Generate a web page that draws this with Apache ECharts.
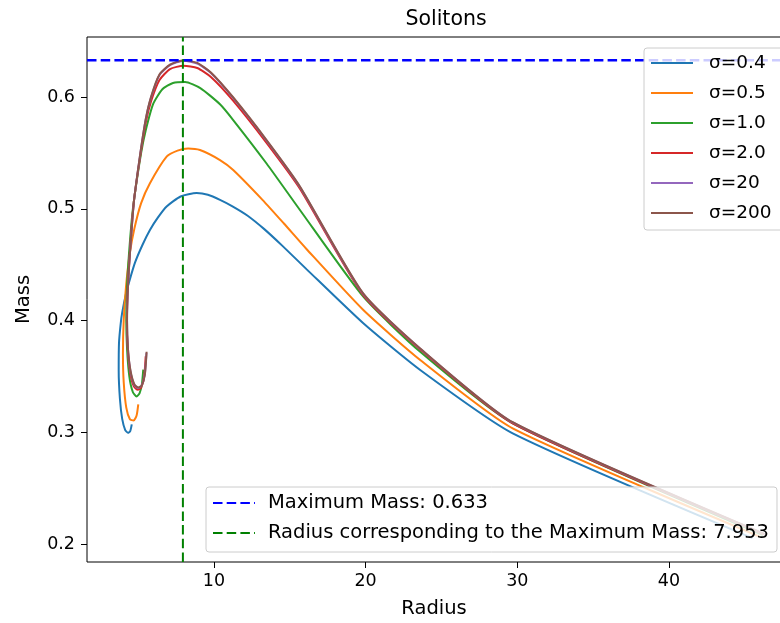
<!DOCTYPE html>
<html>
<head>
<meta charset="utf-8">
<script src="https://cdn.jsdelivr.net/npm/echarts@6/dist/echarts.min.js"></script>
<style>
html,body{margin:0;padding:0;background:#fff;}
#chart{width:780px;height:623px;}
</style>
</head>
<body>
<div id="chart"></div>
<script>
// ---- data ----
const titleText = 'Solitons';
const xName = 'Radius';
const yName = 'Mass';
const xTicks = [10, 20, 30, 40];
const yTicks = [0.2, 0.3, 0.4, 0.5, 0.6];
const xRange = [1.63, 47.39];   // visible part of the axis (right side is cut off in the reference)
const yRange = [0.1839, 0.6537];
const maxMass = 0.633;
const maxRadius = 7.953;
const seriesNames = ['σ=0.4', 'σ=0.5', 'σ=1.0', 'σ=2.0', 'σ=20', 'σ=200'];

const s04 = [[4.58,0.307],[4.48,0.301],[4.33,0.2995],[4.15,0.302],[3.95,0.312],[3.8,0.33],[3.72,0.355],[3.74,0.38],[3.85,0.397],[3.95,0.407],[4.2,0.424],[4.46,0.437],[4.8,0.452],[5.3,0.468],[5.78,0.481],[6.3,0.492],[6.88,0.502],[7.8,0.511],[8.86,0.514],[9.6,0.5125],[10.4,0.508],[11.25,0.502],[12.2,0.494],[13.3,0.482],[14.5,0.467],[16.1,0.446],[19.85,0.3975],[23.6,0.3557],[29.7,0.299],[45.5,0.2053]];
const s05 = [[5.01,0.325],[4.9,0.315],[4.7,0.3105],[4.46,0.3116],[4.22,0.322],[4.05,0.345],[4.0,0.37],[4.05,0.40],[4.2,0.43],[4.45,0.46],[4.75,0.482],[5.2,0.505],[5.78,0.5228],[6.88,0.5466],[7.6,0.552],[8.3,0.554],[9.08,0.5526],[10.4,0.5436],[11.27,0.5347],[13.2,0.508],[14.6,0.487],[16.1,0.464],[19.85,0.4094],[23.6,0.3647],[29.7,0.3035],[46.0,0.2065]];
const s10 = [[5.34,0.356],[5.25,0.343],[5.1,0.335],[4.9,0.332],[4.65,0.336],[4.42,0.35],[4.27,0.375],[4.22,0.40],[4.27,0.43],[4.4,0.46],[4.58,0.49],[4.75,0.51],[5.2,0.55],[5.5,0.57],[6.0,0.594],[6.6,0.607],[7.3,0.6125],[8.1,0.6134],[9.1,0.608],[10.4,0.5935],[11.27,0.5794],[13.47,0.5405],[15.67,0.4989],[19.85,0.4213],[23.6,0.372],[29.7,0.308],[46.2,0.208]];
const s20 = [[5.5,0.368],[5.4,0.350],[5.2,0.340],[4.98,0.338],[4.72,0.341],[4.48,0.353],[4.32,0.374],[4.26,0.40],[4.32,0.43],[4.45,0.46],[4.61,0.49],[4.75,0.51],[5.15,0.548],[5.5,0.577],[5.85,0.596],[6.4,0.615],[7.1,0.625],[8.0,0.628],[8.9,0.626],[9.8,0.618],[11.25,0.597],[13.47,0.559],[15.67,0.518],[19.83,0.423],[23.6,0.374],[29.7,0.308],[46.3,0.2085]];
const s200a = [[5.55,0.371],[5.44,0.352],[5.24,0.342],[5.0,0.3395],[4.74,0.3425],[4.49,0.355],[4.33,0.375],[4.27,0.40],[4.33,0.43],[4.46,0.46],[4.62,0.49],[4.75,0.51],[5.15,0.55],[5.5,0.58],[5.85,0.5995],[6.4,0.6195],[7.1,0.6285],[8.0,0.6325],[8.9,0.63],[9.8,0.6215],[11.25,0.5995],[13.47,0.561],[15.67,0.5195],[19.83,0.424],[23.6,0.3748],[29.7,0.3088],[46.3,0.2088]];
const s2000 = [[5.56,0.372],[5.45,0.352],[5.25,0.342],[5.01,0.340],[4.75,0.343],[4.5,0.355],[4.33,0.375],[4.27,0.40],[4.33,0.43],[4.46,0.46],[4.62,0.49],[4.75,0.51],[5.15,0.55],[5.5,0.58],[5.85,0.60],[6.4,0.62],[7.1,0.629],[8.0,0.633],[8.9,0.6305],[9.8,0.622],[11.25,0.600],[13.47,0.5615],[15.67,0.52],[19.83,0.4245],[23.6,0.375],[29.7,0.309],[46.3,0.209]];
const curves = [s04, s05, s10, s20, s200a, s2000];
const colors = ['#1f77b4', '#ff7f0e', '#2ca02c', '#d62728', '#9467bd', '#8c564b'];
const maxMassLabel = 'Maximum Mass: ' + maxMass.toFixed(3);
const maxRadiusLabel = 'Radius corresponding to the Maximum Mass: ' + maxRadius.toFixed(3);

// ---- chart ----
const FONT = 'DejaVu Sans';
const chart = echarts.init(document.getElementById('chart'), null, {renderer: 'canvas'});

const series = curves.map((d, i) => ({
  name: seriesNames[i],
  type: 'line',
  data: d,
  symbol: 'none',
  smooth: 0.2,
  color: colors[i],
  lineStyle: {width: 2, color: colors[i]},
  emphasis: {disabled: true}
}));
series.push({
  name: maxMassLabel,
  type: 'line',
  data: [[xRange[0], maxMass], [xRange[1], maxMass]],
  symbol: 'none',
  color: '#0000ff',
  lineStyle: {width: 2.5, color: '#0000ff', type: [9.5, 4.2]},
  emphasis: {disabled: true}
});
series.push({
  name: maxRadiusLabel,
  type: 'line',
  data: [[maxRadius, yRange[0]], [maxRadius, yRange[1]]],
  symbol: 'none',
  color: '#008000',
  lineStyle: {width: 2, color: '#008000', type: [9.5, 4.2]},
  emphasis: {disabled: true}
});

const legendCommon = {
  orient: 'vertical',
  itemWidth: 42,
  itemHeight: 14,
  itemGap: 10,
  backgroundColor: 'rgba(255,255,255,0.8)',
  borderColor: '#cccccc',
  borderWidth: 1,
  borderRadius: 3,
  selectedMode: false,
  itemStyle: {opacity: 0}
};

chart.setOption({
  animation: false,
  title: {
    text: titleText,
    left: 441,
    textAlign: 'center',
    top: 4,
    textStyle: {fontFamily: FONT, fontSize: 20.5, fontWeight: 'normal', color: '#000'}
  },
  legend: [
    Object.assign({}, legendCommon, {
      data: seriesNames, left: 644, top: 48, padding: [5, 30, 7, 6],
      textStyle: {fontFamily: FONT, fontSize: 18.5, color: '#000', lineHeight: 20, padding: [0, 0, 0, 11]}
    }),
    Object.assign({}, legendCommon, {
      data: [maxMassLabel, maxRadiusLabel], left: 206, top: 487, padding: [6, 8, 9, 6],
      textStyle: {fontFamily: FONT, fontSize: 19.5, color: '#000', lineHeight: 20, padding: [0, 0, 0, 8]}
    })
  ],
  grid: {left: 87, top: 37, width: 694, height: 525, outerBoundsMode: 'none', containLabel: false,
         show: true, borderColor: '#000', borderWidth: 1, backgroundColor: 'transparent'},
  xAxis: {
    type: 'value', min: xRange[0], max: xRange[1],
    name: xName, nameLocation: 'middle', nameGap: 37,
    nameTextStyle: {fontFamily: FONT, fontSize: 19.5, color: '#000'},
    axisLine: {show: false},
    splitLine: {show: false},
    axisTick: {show: true, length: 6, lineStyle: {color: '#000', width: 1}, customValues: xTicks},
    axisLabel: {fontFamily: FONT, fontSize: 17.5, color: '#000', margin: 10, customValues: xTicks}
  },
  yAxis: {
    type: 'value', min: yRange[0], max: yRange[1],
    name: yName, nameLocation: 'middle', nameGap: 53,
    nameTextStyle: {fontFamily: FONT, fontSize: 19.5, color: '#000'},
    axisLine: {show: false},
    splitLine: {show: false},
    axisTick: {show: true, length: 6, lineStyle: {color: '#000', width: 1}, customValues: yTicks},
    axisLabel: {fontFamily: FONT, fontSize: 17.5, color: '#000', margin: 12, customValues: yTicks, formatter: v => v.toFixed(1)}
  },
  series: series
});
</script>
</body>
</html>
